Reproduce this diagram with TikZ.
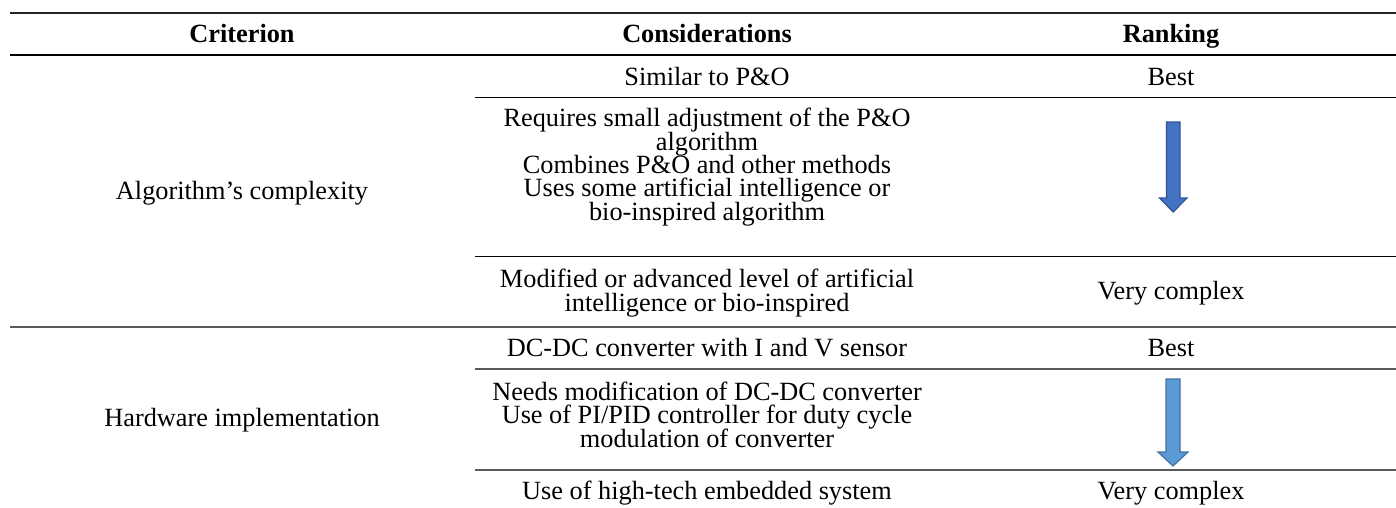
\documentclass[tikz,border=0pt]{standalone}
\usepackage{fontspec}
\setmainfont{Liberation Serif}
\definecolor{arrowA}{HTML}{4472C4}
\definecolor{arrowAedge}{HTML}{2F5597}
\definecolor{arrowB}{HTML}{5B9BD5}
\definecolor{arrowBedge}{HTML}{41719C}
\definecolor{rulegray}{HTML}{5A5A5A}
\newcommand\mytightlines{\lineskiplimit=-100pt\relax\lineskip=0pt\relax}
\begin{document}
\begin{tikzpicture}[x=1pt,y=-1pt,
  every node/.style={inner sep=0pt, anchor=base, align=center,
    font=\fontsize{26.3}{23.3}\selectfont,
    execute at begin node=\mytightlines},
  head/.style={font=\fontsize{26.3}{23.3}\selectfont\bfseries},
  toprule/.style={line width=2.4pt, black!85},
  midrule/.style={line width=1.4pt, black},
  thinrule/.style={line width=1pt, black},
  grayrule/.style={line width=1.3pt, rulegray},
  rankA/.style={fill=arrowA, draw=arrowAedge, line width=1.2pt, line join=miter},
  rankB/.style={fill=arrowB, draw=arrowBedge, line width=1.2pt, line join=miter}]
\useasboundingbox (0,0) rectangle (1396,507);

% rules
\draw[toprule] (10,13) -- (1396,13);
\draw[midrule] (10,55) -- (1396,55);
\draw[thinrule] (475,97) -- (1396,97);
\draw[thinrule] (475,256.5) -- (1396,256.5);
\draw[grayrule] (10,327) -- (1396,327);
\draw[grayrule] (475,369) -- (1396,369);
\draw[grayrule] (475,470) -- (1396,470);

% header
\node[head] (h1) at (242,42) {Criterion};
\node[head] (h2) at (707,42) {Considerations};
\node[head] (h3) at (1171,42) {Ranking};

% first group (anchor = baseline of the last line)
\node (c1) at (242,199) {Algorithm’s complexity};
\node (a1) at (707,85) {Similar to P\&O};
\node (r1) at (1171,85) {Best};
\node (a2) at (707,220) {Requires small adjustment of the P\&O\\algorithm\\Combines P\&O and other methods\\Uses some artificial intelligence or\\bio-inspired algorithm};
\node (a3) at (707,311) {Modified or advanced level of artificial\\intelligence or bio-inspired};
\node (r3) at (1171,299.5) {Very complex};

% second group
\node (c2) at (242,426) {Hardware implementation};
\node (b1) at (707,356.7) {DC-DC converter with I and V sensor};
\node (s1) at (1171,356.7) {Best};
\node (b2) at (707,447) {Needs modification of DC-DC converter\\Use of PI/PID controller for duty cycle\\modulation of converter};
\node (b3) at (707,499) {Use of high-tech embedded system};
\node (s3) at (1171,499) {Very complex};

% ranking arrows
\draw[rankA] (1166.5,122) -- (1180,122) -- (1180,198) -- (1187,198) -- (1173.2,212) -- (1159.5,198) -- (1166.5,198) -- cycle;
\draw[rankB] (1166,379) -- (1180,379) -- (1180,452) -- (1188,452) -- (1173,466) -- (1158,452) -- (1166,452) -- cycle;
\end{tikzpicture}
\end{document}
